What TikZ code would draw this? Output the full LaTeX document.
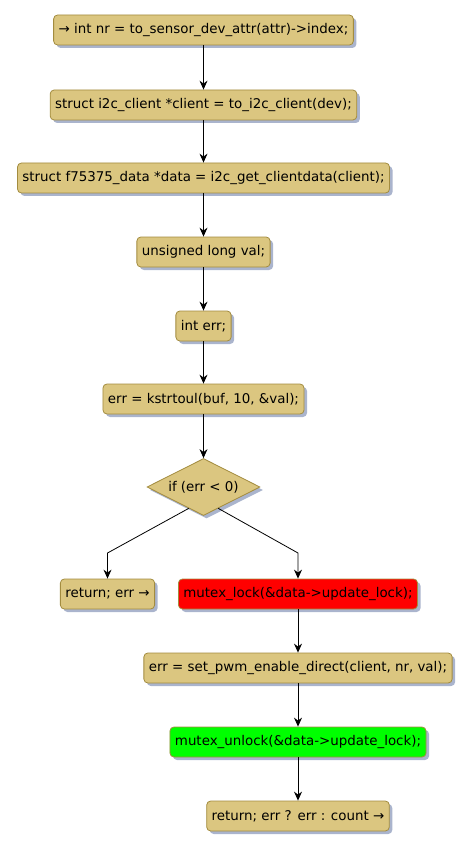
\documentclass[tikz,border=0pt]{standalone}
\usepackage{fontspec}
\setmainfont{DejaVu Sans}
\usetikzlibrary{shapes.geometric,shadows,arrows.meta,calc}
\definecolor{actfill}{RGB}{219,198,128}
\definecolor{actline}{RGB}{163,140,63}
\definecolor{shadowc}{RGB}{170,180,205}
\tikzset{
  act/.style={draw=actline, fill=actfill, rounded corners=4pt, line width=0.8pt,
    minimum height=30pt, inner xsep=5pt, inner ysep=0pt,
    font=\fontsize{13.4}{15}\selectfont,
    drop shadow={shadow xshift=3pt, shadow yshift=-3pt, fill=shadowc, opacity=1}},
  decide/.style={diamond, draw=actline, fill=actfill, line width=0.8pt,
    minimum width=113pt, minimum height=57pt, inner sep=0pt, aspect=2,
    font=\fontsize{13.4}{15}\selectfont,
    drop shadow={shadow xshift=3pt, shadow yshift=-3pt, fill=shadowc, opacity=1}},
  flow/.style={-{Stealth[length=9pt,width=8pt,inset=3pt]}, line width=0.8pt, black},
}
\begin{document}
\begin{tikzpicture}[x=1pt,y=-1pt]
\useasboundingbox (0,0) rectangle (471,850);
\node[act] (n1) at (203.5,30) {→ int nr = to\_sensor\_dev\_attr(attr)->index;};
\node[act] (n2) at (203.5,105) {struct i2c\_client *client = to\_i2c\_client(dev);};
\node[act] (n3) at (203.5,178) {struct f75375\_data *data = i2c\_get\_clientdata(client);};
\node[act] (n4) at (203.5,252) {unsigned long val;};
\node[act] (n5) at (203.5,326) {int err;};
\node[act] (n6) at (203.5,399) {err = kstrtoul(buf, 10, \&val);};
\node[decide] (d) at (203.5,487) {if (err < 0)};
\node[act] (r1) at (107.5,594) {return; err →};
\node[act, fill=red] (m1) at (298,594) {mutex\_lock(\&data->update\_lock);};
\node[act] (n7) at (298,668) {err = set\_pwm\_enable\_direct(client, nr, val);};
\node[act, fill=green] (m2) at (298,742) {mutex\_unlock(\&data->update\_lock);};
\node[act] (r2) at (298,816) {return; err ? err : count →};

\draw[flow] (n1) -- (n2);
\draw[flow] (n2) -- (n3);
\draw[flow] (n3) -- (n4);
\draw[flow] (n4) -- (n5);
\draw[flow] (n5) -- (n6);
\draw[flow] (n6) -- (d);
\coordinate (dl) at ($(d.west)!0.74!(d.south)$);
\coordinate (dr) at ($(d.south)!0.26!(d.east)$);
\coordinate (bl) at (r1.north |- 0,553);
\coordinate (br) at (m1.north |- 0,553);
\draw[flow] (dl) -- (bl) -- (r1.north);
\draw[flow] (dr) -- (br) -- (m1.north);
\draw[flow] (m1) -- (n7);
\draw[flow] (n7) -- (m2);
\draw[flow] (m2) -- (r2);
\end{tikzpicture}
\end{document}
